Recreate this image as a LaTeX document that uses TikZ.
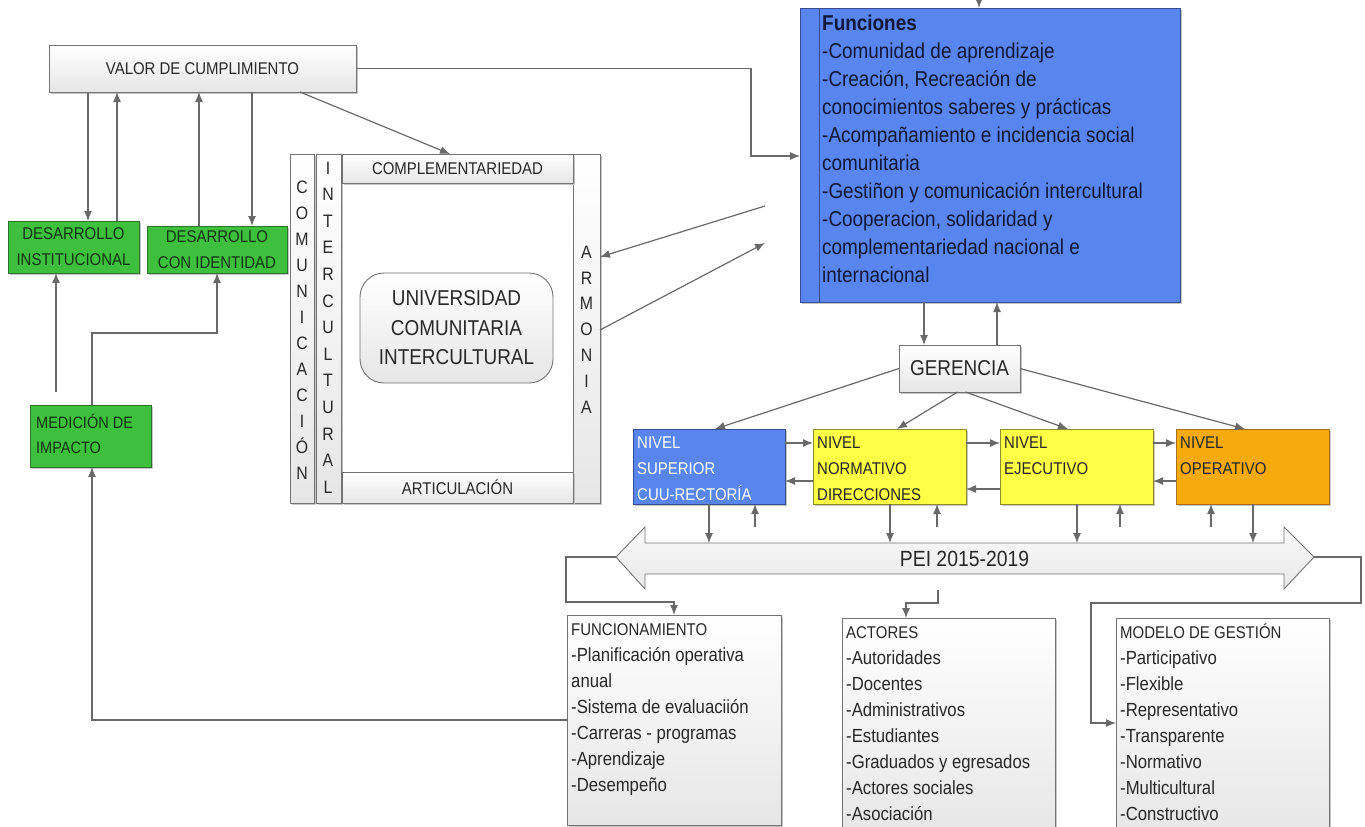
\documentclass[tikz,border=0pt]{standalone}
\usepackage{fontspec}
\setmainfont{Liberation Sans}[FakeStretch=0.88]
\usetikzlibrary{arrows.meta,shadows}
\definecolor{lc}{RGB}{105,105,105}
\definecolor{gb}{RGB}{115,115,115}
\definecolor{gf}{RGB}{230,230,230}
\definecolor{gn}{RGB}{62,192,62}
\definecolor{gd}{RGB}{45,115,45}
\definecolor{bl}{RGB}{88,133,238}
\definecolor{bd}{RGB}{55,75,150}
\definecolor{ye}{RGB}{255,255,70}
\definecolor{yd}{RGB}{140,140,40}
\definecolor{orf}{RGB}{247,170,12}
\definecolor{ord}{RGB}{170,110,20}
\definecolor{tx}{RGB}{40,40,40}
\definecolor{ntx}{RGB}{18,24,60}
\newcommand{\fs}[2]{\fontsize{#1}{#2}\selectfont}
\newcommand{\stl}{\rule{0pt}{1em}}
\begin{document}
\begin{tikzpicture}[x=1pt,y=-1pt,
  arr/.style={draw=lc, line width=1.2pt, -{Latex[length=10pt,width=8pt]}},
  ln/.style={draw=lc, line width=1.2pt},
  bx/.style={anchor=north west, inner sep=0pt, outer sep=0pt, line width=0.9pt},
  shd/.style={general shadow={fill=gray!45, shadow xshift=2pt, shadow yshift=-2pt}},
  graybox/.style={bx, draw=gb, top color=white, bottom color=gf, shd, text=tx},
  greenbox/.style={bx, draw=gd, fill=gn, shd, text=gd!45!black},
  bluebox/.style={bx, draw=bd, fill=bl, shd},
  yellowbox/.style={bx, draw=yd, fill=ye, shd},
  orangebox/.style={bx, draw=ord, fill=orf, shd},
  txt/.style={anchor=north west, inner sep=0pt, align=left},
  vt/.style={inner sep=0pt, align=center, font=\fs{18}{26}, text=tx}
]
\useasboundingbox (0,0) rectangle (1365,827);

% helper coordinates
\coordinate (xa) at (88,0);   \coordinate (xb) at (117,0);
\coordinate (xc) at (199,0);  \coordinate (xd) at (252,0);
\coordinate (xe) at (300,0);  \coordinate (xf) at (450,0);
\coordinate (xg) at (751,0);  \coordinate (yA) at (0,156);
\coordinate (ms) at (56,392); \coordinate (xh) at (92,0);
\coordinate (xi) at (217,0);  \coordinate (yB) at (0,333);
\coordinate (yC) at (0,720);
\coordinate (a1s) at (765,206); \coordinate (ya1) at (0,257);
\coordinate (a2e) at (765,243); \coordinate (ya2) at (0,330);
\coordinate (xj) at (924,0);  \coordinate (xk) at (997,0);
\coordinate (g1) at (715,0);  \coordinate (g2) at (897,0);
\coordinate (g3) at (1068,0); \coordinate (g4) at (1245,0);
\coordinate (h1) at (0,443);  \coordinate (h2) at (0,481); \coordinate (h3) at (0,489);
\coordinate (d1) at (709,0);  \coordinate (u1) at (755,527);
\coordinate (d2) at (890,0);  \coordinate (u2) at (937,527);
\coordinate (d3) at (1077,0); \coordinate (u3) at (1120,527);
\coordinate (d4) at (1253,0); \coordinate (u4) at (1211,527);
\coordinate (peiL) at (616,557); \coordinate (peiR) at (1314,557);
\coordinate (xl) at (566,0); \coordinate (xm) at (674,0); \coordinate (y602) at (0,602);
\coordinate (ps) at (938,590); \coordinate (xn) at (906,0); \coordinate (y603) at (0,603);
\coordinate (xo) at (1361,0); \coordinate (xp) at (1091,0); \coordinate (y723) at (0,723);
\coordinate (tb) at (979,-14);

% left column
\node[graybox, minimum width=307pt, minimum height=47pt, font=\fs{17}{20}] (valor) at (49,45) {VALOR DE CUMPLIMIENTO};
\node[greenbox, minimum width=131pt, minimum height=52pt, align=center, font=\fs{17}{26}] (di) at (8,221) {DESARROLLO\\INSTITUCIONAL};
\node[greenbox, minimum width=140pt, minimum height=47pt, align=center, font=\fs{17}{26}] (dci) at (147,226) {DESARROLLO\\CON IDENTIDAD};
\node[greenbox, minimum width=121pt, minimum height=62pt] (med) at (30,405) {};
\node[txt, font=\fs{16.5}{25}, text=gd!45!black] (medt) at (36,411.5) {\stl MEDICIÓN DE\\IMPACTO};

% central frame
\node[graybox, minimum width=24pt, minimum height=349pt] (com) at (290,154) {};
\node[graybox, minimum width=25pt, minimum height=349pt] (int) at (316,154) {};
\node[graybox, minimum width=27pt, minimum height=349pt] (arm) at (573,154) {};
\node[graybox, minimum width=231pt, minimum height=29pt, font=\fs{17}{20}] (comp) at (342,154) {COMPLEMENTARIEDAD};
\node[graybox, minimum width=231pt, minimum height=31pt, font=\fs{17}{20}] (art) at (342,472) {ARTICULACIÓN};
\node[vt] (comt) at (302,330) {C\\O\\M\\U\\N\\I\\C\\A\\C\\I\\Ó\\N};
\node[vt, font=\fs{18}{26.6}] (intt) at (328,327.5) {I\\N\\T\\E\\R\\C\\U\\L\\T\\U\\R\\A\\L};
\node[vt, font=\fs{18}{25.8}] (armt) at (586.5,329.5) {A\\R\\M\\O\\N\\I\\A};
\node[bx, draw=gb, top color=white, bottom color=gf, rounded corners=24pt, minimum width=193pt, minimum height=110pt, align=center, font=\fs{21.5}{29.5}, text=tx] (univ) at (360,273) {UNIVERSIDAD\\COMUNITARIA\\INTERCULTURAL};

% funciones
\node[bluebox, minimum width=380pt, minimum height=294pt] (fun) at (800,8) {};
\draw[bd, line width=0.9pt] ([xshift=19pt]fun.north west) -- ([xshift=19pt]fun.south west);
\node[txt, font=\fs{21.5}{27.9}, text=ntx] (funt) at (822,9.2) {\stl\textbf{Funciones}\\-Comunidad de aprendizaje\\-Creación, Recreación de\\conocimientos saberes y prácticas\\-Acompañamiento e incidencia social\\comunitaria\\-Gestiñon y comunicación intercultural\\-Cooperacion, solidaridad y\\complementariedad nacional e\\internacional};

% gerencia and levels
\node[graybox, minimum width=121pt, minimum height=47pt, font=\fs{21.5}{24}] (ger) at (899,345) {GERENCIA};
\node[bluebox, minimum width=152pt, minimum height=75pt] (sup) at (633,429) {};
\node[yellowbox, minimum width=153pt, minimum height=75pt] (nor) at (813,429) {};
\node[yellowbox, minimum width=153pt, minimum height=75pt] (eje) at (1000,429) {};
\node[orangebox, minimum width=153pt, minimum height=75pt] (ope) at (1176,429) {};
\node[txt, font=\fs{17}{26}, text=white] (supt) at (637,431) {\stl NIVEL\\SUPERIOR\\CUU-RECTORÍA};
\node[txt, font=\fs{17}{26}, text=black!85] (nort) at (817,431) {\stl NIVEL\\NORMATIVO\\DIRECCIONES};
\node[txt, font=\fs{17}{26}, text=black!85] (ejet) at (1004,431) {\stl NIVEL\\EJECUTIVO};
\node[txt, font=\fs{17}{26}, text=black!85] (opet) at (1180,431) {\stl NIVEL\\OPERATIVO};

% PEI arrow
\path[draw=gb, line width=0.9pt, top color=gray!4, bottom color=gray!18]
  (peiL) -- (645,527) -- (645,543) -- (1284,543) -- (1284,527) -- (peiR)
  -- (1284,589) -- (1284,574) -- (645,574) -- (645,589) -- cycle;
\node[inner sep=0pt, outer sep=0pt, minimum width=639pt, minimum height=31pt, font=\fs{22}{24}, text=tx] (pei) at (964.5,558.5) {PEI 2015-2019};

% bottom boxes
\node[graybox, minimum width=214pt, minimum height=210pt] (funct) at (567,615) {};
\node[graybox, minimum width=213pt, minimum height=220pt] (actb) at (842,618) {};
\node[graybox, minimum width=213pt, minimum height=220pt] (modb) at (1116,618) {};
\node[txt, font=\fs{19}{26.1}, text=tx] (functt) at (571,616) {\stl{\fs{17}{26.1}FUNCIONAMIENTO}\\-Planificación operativa\\anual\\-Sistema de evaluaciión\\-Carreras - programas\\-Aprendizaje\\-Desempeño};
\node[txt, font=\fs{19}{26.1}, text=tx] (actt) at (846,619) {\stl{\fs{17}{26.1}ACTORES}\\-Autoridades\\-Docentes\\-Administrativos\\-Estudiantes\\-Graduados y egresados\\-Actores sociales\\-Asociación};
\node[txt, font=\fs{19}{26.1}, text=tx] (modt) at (1120,619) {\stl{\fs{17}{26.1}MODELO DE GESTIÓN}\\-Participativo\\-Flexible\\-Representativo\\-Transparente\\-Normativo\\-Multicultural\\-Constructivo};

% connectors left
\draw[arr] (valor.south -| xa) -- (di.north -| xa);
\draw[arr] (di.north -| xb) -- (valor.south -| xb);
\draw[arr] (dci.north -| xc) -- (valor.south -| xc);
\draw[arr] (valor.south -| xd) -- (dci.north -| xd);
\draw[arr] (valor.south -| xe) -- (comp.north -| xf);
\draw[arr] (valor.east) -| (xg |- yA) -- (fun.west |- yA);
\draw[arr] (ms) -- (di.south -| ms);
\draw[arr] (med.north -| xh) |- (xi |- yB) -- (dci.south -| xi);
\draw[arr] (funct.west |- yC) -| (med.south -| xh);
\draw[arr] (a1s) -- (arm.east |- ya1);
\draw[arr] (arm.east |- ya2) -- (a2e);
\draw[arr] (tb) -- (fun.north -| tb);

% funciones / gerencia
\draw[arr] (fun.south -| xj) -- (ger.north -| xj);
\draw[arr] (ger.north -| xk) -- (fun.south -| xk);
\draw[arr] (ger.west) -- (sup.north -| g1);
\draw[arr] ([xshift=-2pt]ger.south) -- (nor.north -| g2);
\draw[arr] ([xshift=6pt]ger.south) -- (eje.north -| g3);
\draw[arr] (ger.east) -- (ope.north -| g4);

% level links
\draw[arr] (sup.east |- h1) -- (nor.west |- h1);
\draw[arr] (nor.west |- h2) -- (sup.east |- h2);
\draw[arr] (nor.east |- h1) -- (eje.west |- h1);
\draw[arr] (eje.west |- h3) -- (nor.east |- h3);
\draw[arr] (eje.east |- h1) -- (ope.west |- h1);
\draw[arr] (ope.west |- h2) -- (eje.east |- h2);

% levels <-> PEI
\draw[arr] (sup.south -| d1) -- (pei.north -| d1);
\draw[arr] (u1) -- (sup.south -| u1);
\draw[arr] (nor.south -| d2) -- (pei.north -| d2);
\draw[arr] (u2) -- (nor.south -| u2);
\draw[arr] (eje.south -| d3) -- (pei.north -| d3);
\draw[arr] (u3) -- (eje.south -| u3);
\draw[arr] (ope.south -| d4) -- (pei.north -| d4);
\draw[arr] (u4) -- (ope.south -| u4);

% PEI to bottom boxes
\draw[arr] (peiL) -| (xl |- y602) -| (funct.north -| xm);
\draw[arr] (ps) |- (xn |- y603) -- (actb.north -| xn);
\draw[arr] (peiR) -| (xo |- y603) -| (xp |- y723) -- (modb.west |- y723);
\end{tikzpicture}
\end{document}
